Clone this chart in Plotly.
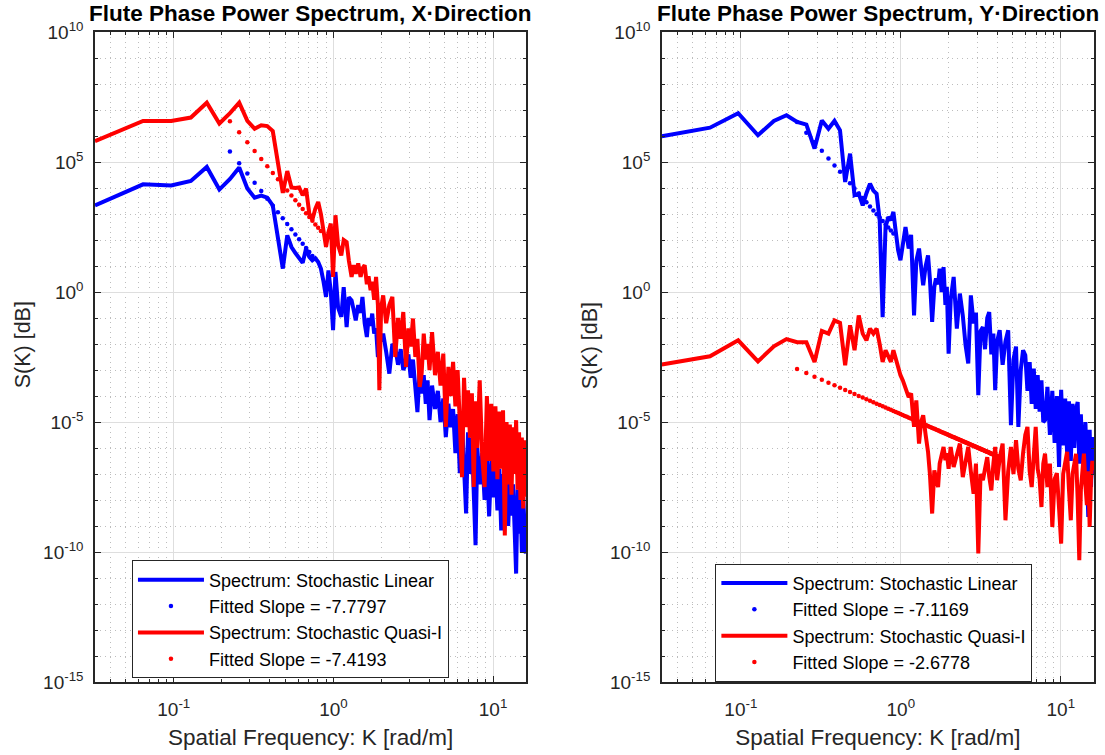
import numpy as np
import plotly.graph_objects as go

# ---------------- data ----------------
# spatial-frequency bins, low range (rad/m)
k_lo = [0.0321, 0.0642, 0.0963, 0.128, 0.161, 0.193, 0.225, 0.257, 0.289, 0.321,
        0.353, 0.385, 0.417, 0.449, 0.482, 0.514, 0.546, 0.578, 0.610, 0.642,
        0.674, 0.706, 0.738, 0.770, 0.803, 0.835, 0.867, 0.899, 0.931, 0.963, 0.995]
# spatial-frequency samples, high range (rad/m)
k_hi = [1.03, 1.07, 1.12, 1.16, 1.21, 1.25, 1.30, 1.34, 1.38, 1.43, 1.48, 1.52, 1.57, 1.62,
        1.66, 1.71, 1.75, 1.80, 1.85, 1.90, 1.94, 1.99,
        2.05, 2.14, 2.24, 2.34, 2.44, 2.54, 2.64, 2.74, 2.85, 2.95, 3.05, 3.15, 3.26, 3.36,
        3.47, 3.57, 3.68, 3.79, 3.89, 4.00,
        4.15, 4.33, 4.51, 4.69, 4.88, 5.06, 5.25, 5.43, 5.62, 5.81, 6.00, 6.19, 6.39, 6.58,
        6.78, 6.97, 7.17, 7.37, 7.57, 7.77, 7.97,
        8.25, 8.55, 8.85, 9.15, 9.45, 9.75, 10.05, 10.35, 10.65, 10.95, 11.25, 11.55, 11.85,
        12.15, 12.45, 12.75, 13.05, 13.35, 13.65, 13.95, 14.25, 14.55, 14.85, 15.15, 15.45,
        15.75, 16.05]

# log10 of S(K), X-direction, stochastic linear
xlin_lo = [3.33, 4.14, 4.10, 4.27, 4.81, 3.94, 4.35, 4.79, 3.98, 3.63, 3.71, 3.63, 3.33, 2.10,
           0.90, 2.18, 1.73, 1.50, 1.30, 1.12, 1.67, 1.35, 1.22, 1.30, 1.15, 0.90, 0.40, -0.19,
           0.83, 0.00, -1.47]
xlin_hi = [0.77, -0.6, -0.96, 0.19, -1.35, -0.2, -0.32, -0.7, -1.09, -0.5, -0.8, -0.19, -1.2,
           -1.73, -1.0, -1.3, -0.83, -1.6, -1.4, -2.5, -1.5, -1.9,
           -1.6, -2.3, -3.14, -2.0, -2.12, -2.8, -2.2, -3.0, -2.75, -2.4, -3.3, -2.6, -3.65,
           -4.62, -3.0, -3.9, -3.2, -4.3, -3.4, -4.93,
           -3.6, -4.5, -3.8, -5.0, -4.1, -5.58, -4.3, -5.2, -4.5, -6.2, -4.7, -6.97, -5.0, -6.5,
           -8.52, -5.4, -7.0, -5.6, -7.8, -9.74, -6.0,
           -7.4, -6.2, -8.0, -6.4, -8.63, -6.5, -7.9, -6.7, -8.4, -6.8, -9.17, -7.0, -8.2, -7.1,
           -9.0, -7.3, -8.6, -7.4, -9.6, -10.83, -7.6, -9.3, -7.8, -10.0, -7.9, -9.5, -10.06]
# log10 of S(K), X-direction, stochastic quasi-linear
xqua_lo = [5.80, 6.58, 6.58, 6.71, 7.28, 6.48, 6.88, 7.28, 6.58, 6.28, 6.41, 6.38, 6.19, 5.00,
           3.81, 4.65, 4.02, 4.00, 4.02, 3.72, 3.98, 3.02, 2.78, 3.20, 3.46, 3.00, 2.30, 1.73,
           2.30, 2.63, 0.58]
xqua_hi = [2.95, 1.8, 1.41, 2.0, 1.92, 1.2, 0.58, 1.03, 0.7, 1.1, 0.58, 0.9, 1.03, 0.3, 0.6,
           0.07, 0.4, -0.3, 0.58, -0.5, -3.78, -0.6,
           -0.13, -1.2, -0.5, -0.19, -2.5, -1.0, -1.8, -0.77, -2.88, -1.4, -2.1, -1.02, -2.5,
           -1.8, -3.65, -3.14, -1.6, -2.6, -2.0, -3.0,
           -1.54, -3.2, -2.3, -3.6, -2.37, -5.19, -2.88, -4.0, -2.69, -4.4, -3.0, -5.0, -7.12,
           -3.3, -5.2, -3.78, -5.6, -3.9, -7.5, -4.2, -6.0,
           -3.4, -6.3, -7.5, -4.0, -6.5, -4.3, -6.9, -4.4, -7.2, -4.6, -6.8, -4.55, -9.36, -5.0,
           -7.4, -5.1, -7.8, -5.2, -7.0, -4.93, -7.6, -5.4, -8.0, -5.6, -8.33, -5.7, -7.88]
# log10 of S(K), Y-direction, stochastic linear
ylin_lo = [5.99, 6.32, 6.88, 6.03, 6.58, 6.80, 6.54, 6.44, 5.52, 6.60, 6.28, 6.58, 6.22, 4.23,
           5.32, 3.72, 3.78, 3.33, 3.80, 4.17, 3.90, 3.78, 2.76, -0.97, 2.50, 2.88, 2.76, 3.08,
           2.30, 1.60, 1.22]
ylin_hi = [1.8, 2.5, 1.67, 2.2, -0.9, 1.2, 1.67, 0.9, 0.26, 1.0, 1.41, 0.5, -1.15, 0.2, 0.52,
           0.3, 0.9, 0.0, 0.96, -0.5, 0.2, -2.37,
           -0.3, 0.58, -1.41, -0.06, -0.9, -2.05, -2.75, -0.13, -1.2, -0.8, -3.97, -1.5, -1.35,
           -2.2, -1.0, -0.77, -2.4, -1.6, -3.78, -1.9,
           -1.47, -2.8, -1.9, -1.47, -5.12, -2.6, -2.1, -5.19, -3.0, -2.24, -2.43, -3.8, -2.7,
           -4.3, -2.95, -4.5, -3.2, -4.6, -3.4, -5.0, -4.93,
           -3.65, -5.5, -3.8, -5.8, -4.0, -6.73, -3.76, -5.9, -4.1, -6.2, -4.2, -6.5, -4.3, -6.0,
           -4.5, -4.23, -6.6, -4.7, -6.3, -6.73, -5.0, -7.2, -8.65, -5.3, -7.5, -5.58, -7.0]
# log10 of S(K), Y-direction, stochastic quasi-linear
yqua_lo = [-2.79, -2.47, -1.86, -2.67, -2.09, -1.81, -1.93, -1.93, -2.69, -1.50, -1.60, -1.09,
           -1.19, -2.82, -1.28, -2.24, -0.90, -1.60, -1.86, -1.41, -1.60, -1.41, -2.00, -2.69,
           -2.24, -2.50, -2.69, -2.24, -2.60, -2.88, -3.20]
yqua_hi = [-3.4, -3.65, -4.04, -3.9, -5.19, -4.17, -5.83, -5.0, -4.74, -5.5, -6.15, -7.0, -8.52,
           -6.86, -7.2, -7.5, -6.6, -6.3, -5.96, -6.47, -6.2, -6.8,
           -5.96, -6.73, -6.2, -5.83, -7.12, -6.5, -5.96, -6.9, -7.76, -6.6, -10.06, -7.0, -7.24,
           -6.8, -6.35, -7.1, -7.63, -6.6, -5.96, -7.24,
           -6.4, -5.83, -8.78, -6.9, -5.96, -7.0, -5.7, -6.8, -7.24, -6.2, -5.5, -5.19, -6.9,
           -7.5, -6.1, -5.19, -6.8, -7.2, -8.27, -6.6, -6.22,
           -7.5, -6.6, -9.04, -7.2, -6.97, -8.3, -9.68, -7.0, -6.6, -6.15, -7.6, -8.78, -7.0,
           -6.5, -6.22, -8.0, -10.32, -7.6, -6.8, -6.22, -7.4, -8.2, -6.9, -9.04, -7.2, -6.5,
           -6.86]

# fitted power laws: slope (from legend), log10 intercept at K=1 (read), fitted bin range
dk = 0.0321
fit_slope = {"xlin": -7.7797, "xqua": -7.4193, "ylin": -7.1169, "yqua": -2.6778}
fit_icpt = {"xlin": 0.363, "xqua": 1.76, "ylin": 1.92, "yqua": -4.70}
fit_bins = {"xlin": (7, 23), "xqua": (7, 26), "ylin": (7, 28), "yqua": (7, 126)}

names_spec = ["Spectrum: Stochastic Linear", "Spectrum: Stochastic Quasi-I"]
titles = ["Flute Phase Power Spectrum, X\u00b7Direction",
          "Flute Phase Power Spectrum, Y\u00b7Direction"]
x_title = "Spatial Frequency: K [rad/m]"
y_title = "S(K) [dB]"
y_tickvals = [1e-15, 1e-10, 1e-5, 1e0, 1e5, 1e10]
y_ticktext = ["10<sup>-15</sup>", "10<sup>-10</sup>", "10<sup>-5</sup>",
              "10<sup>0</sup>", "10<sup>5</sup>", "10<sup>10</sup>"]
x_tickvals = [0.1, 1, 10]
x_ticktext = ["10<sup>-1</sup>", "10<sup>0</sup>", "10<sup>1</sup>"]

# ---------------- figure ----------------
FONT = "Liberation Sans, Arial, sans-serif"
TXT = "#262626"
BLUE = "#0000ff"
RED = "#ff0000"

k_all = np.array(k_lo + k_hi)


def spec(lo, hi):
    return 10.0 ** np.array(lo + hi)


def fit(key):
    n0, n1 = fit_bins[key]
    k = dk * np.arange(n0, n1 + 1)
    return k, 10.0 ** (fit_icpt[key] + fit_slope[key] * np.log10(k))


fig = go.Figure()
panels = [
    ("x", "y", "legend", ("xlin", xlin_lo, xlin_hi), ("xqua", xqua_lo, xqua_hi)),
    ("x2", "y2", "legend2", ("ylin", ylin_lo, ylin_hi), ("yqua", yqua_lo, yqua_hi)),
]
g = 0
for xa, ya, leg, lin, qua in panels:
    for (key, lo, hi), col, nm in ((lin, BLUE, names_spec[0]), (qua, RED, names_spec[1])):
        g += 1
        fig.add_trace(go.Scatter(x=k_all, y=spec(lo, hi), mode="lines", name=nm,
                                 line=dict(color=col, width=4), xaxis=xa, yaxis=ya,
                                 legend=leg, legendgroup=f"g{g}"))
        kf, sf = fit(key)
        g += 1
        fig.add_trace(go.Scatter(x=kf, y=sf, mode="markers",
                                 name=f"Fitted Slope = {fit_slope[key]:.4f}",
                                 marker=dict(color=col, size=4.5), xaxis=xa, yaxis=ya,
                                 legend=leg, legendgroup=f"g{g}"))

xminor = [m * 10.0 ** e for e in (-2, -1, 0) for m in range(2, 10)]
xminor = [v for v in xminor if 0.032 < v < 16.2]
yminor = [10.0 ** e for e in range(-15, 11) if e % 5 != 0]

minor_common = dict(ticks="inside", ticklen=3, tickcolor=TXT, showgrid=True,
                    gridcolor="#bdbdbd", griddash="1px,4px", gridwidth=1)
axis_common = dict(type="log", tickmode="array", ticks="inside", ticklen=6, tickwidth=1,
                   tickcolor=TXT, showline=True, linecolor=TXT, linewidth=1.5,
                   mirror="ticks", showgrid=True, gridcolor="#dedede", gridwidth=1,
                   zeroline=False, tickfont=dict(family=FONT, size=19, color=TXT))
xcommon = dict(range=[-1.4935, 1.2075], tickvals=x_tickvals, ticktext=x_ticktext,
               ticklabelstandoff=9,
               minor=dict(tickvals=xminor, **minor_common),
               title=dict(text=x_title, font=dict(family=FONT, size=22.5, color=TXT),
                          standoff=11),
               **axis_common)
ycommon = dict(range=[-15, 10], tickvals=y_tickvals, ticktext=y_ticktext,
               ticklabelstandoff=6,
               minor=dict(tickvals=yminor, **minor_common),
               **axis_common)

legcommon = dict(bgcolor="white", bordercolor=TXT, borderwidth=1, xanchor="left",
                 yanchor="top", font=dict(family=FONT, size=18, color="#000000"),
                 tracegroupgap=0, itemwidth=66, traceorder="grouped")

fig.update_layout(
    width=1105, height=755,
    margin=dict(l=95, r=9, t=32, b=73),
    paper_bgcolor="white", plot_bgcolor="white",
    font=dict(family=FONT, color=TXT),
    xaxis=dict(domain=[0, 0.4316], anchor="y", **xcommon),
    yaxis=dict(domain=[0, 1], anchor="x", **ycommon),
    xaxis2=dict(domain=[0.5674, 1.0], anchor="y2", **xcommon),
    yaxis2=dict(domain=[0, 1], anchor="x2", **ycommon),
    legend=dict(x=0.037, y=0.187, **legcommon),
    legend2=dict(x=0.621, y=0.182, **legcommon),
    showlegend=True,
)
for i, t in enumerate(titles):
    xd = fig.layout.xaxis.domain if i == 0 else fig.layout.xaxis2.domain
    fig.add_annotation(text=f"<b>{t}</b>", xref="paper", yref="paper",
                       x=(xd[0] + xd[1]) / 2, y=1.0, yshift=19, xanchor="center",
                       yanchor="middle", showarrow=False,
                       font=dict(family=FONT, size=22.5, color="#000000"))
    # y-axis title, placed left of the tick labels
    fig.add_annotation(text=y_title, xref="paper", yref="paper",
                       x=xd[0], xshift=-72, y=0.518, textangle=-90, xanchor="center",
                       yanchor="middle", showarrow=False,
                       font=dict(family=FONT, size=21.5, color=TXT))

# remove the page's default body margin so the figure sits at the window corner
fig.write_html("out.html", config={"displayModeBar": False},
               post_script="document.body.style.margin='0px';")
